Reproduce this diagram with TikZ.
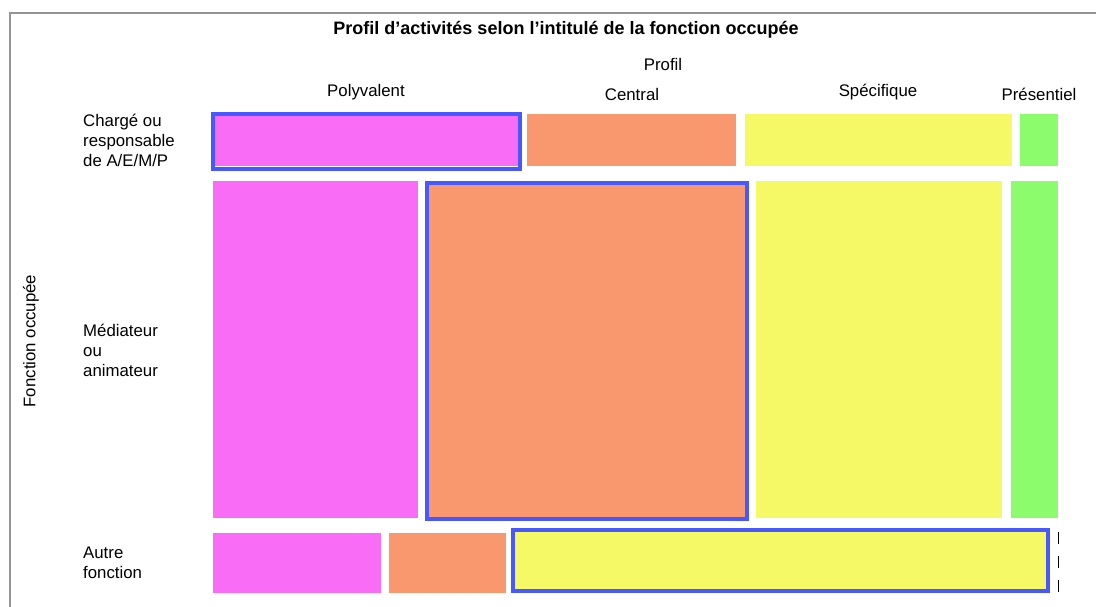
\documentclass[tikz,border=0pt]{standalone}
\usepackage{fontspec}
\setmainfont{Liberation Sans}
\usepackage{tikz}
\usetikzlibrary{arrows.meta}
\usetikzlibrary{calc}

\definecolor{tile_pink}{RGB}{249,108,245}
\definecolor{tile_orange}{RGB}{249,152,110}
\definecolor{tile_yellow}{RGB}{245,249,102}
\definecolor{tile_green}{RGB}{140,252,108}
\definecolor{mark_blue}{RGB}{72,88,255}

\begin{document}
\begin{tikzpicture}[x=1pt, y=-1pt,
        label_style/.style={inner sep=0pt, font=\fontsize{16.8}{20}\selectfont},
        row_style/.style={inner sep=0pt, anchor=west, align=left, font=\fontsize{16.8}{20}\selectfont},
        title_style/.style={inner sep=0pt, font=\fontsize{18}{20}\selectfont\bfseries},
        mark_style/.style={draw=mark_blue, line width=4pt},
        frame_style/.style={draw=black!42, line width=2pt}]

        \useasboundingbox (0,0) rectangle (1096,607);

        \draw [frame_style] (10,607) -- (10,13) -- (1096,13);

        \node [title_style](title) at (566,30) {Profil d’activités selon l’intitulé de la fonction occupée};

        \node [label_style](profil) at (663,64) {Profil};

        \node [label_style](polyvalent) at (366,92) {Polyvalent};

        \node [label_style](central) at (632,94) {Central};

        \node [label_style](specifique) at (878,92) {Spécifique};

        \node [label_style](presentiel) at (1039,94) {Présentiel};

        \node [label_style, rotate=90](fonction) at (31,341) {Fonction occupée};

        \node [row_style](charge) at (83,140) {Chargé ou\\responsable\\de A/E/M/P};

        \node [row_style](mediateur) at (83,350) {Médiateur\\ou\\animateur};

        \node [row_style](autre) at (83,563) {Autre\\fonction};

        % row 1
        \fill [tile_pink] (213,114) rectangle (520,166);
        \fill [tile_orange] (527,114) rectangle (736,166);
        \fill [tile_yellow] (745,114) rectangle (1012,166);
        \fill [tile_green] (1020,114) rectangle (1058,166);

        % row 2
        \fill [tile_pink] (213,181) rectangle (418,518);
        \fill [tile_orange] (427,181) rectangle (748,518);
        \fill [tile_yellow] (756,181) rectangle (1002,518);
        \fill [tile_green] (1011,181) rectangle (1058,518);

        % row 3
        \fill [tile_pink] (213,533) rectangle (381,593);
        \fill [tile_orange] (389,533) rectangle (506,593);
        \fill [tile_yellow] (513,530) rectangle (1048,591);
        \draw [black, line width=1pt, dash pattern=on 12pt off 12pt] (1058,532) -- (1058,593);

        % highlighted cells
        \draw [mark_style] (213,114) rectangle (520,169);
        \draw [mark_style] (427,183) rectangle (747,519);
        \draw [mark_style] (513,530) rectangle (1048,591);

        \end{tikzpicture}
\end{document}
